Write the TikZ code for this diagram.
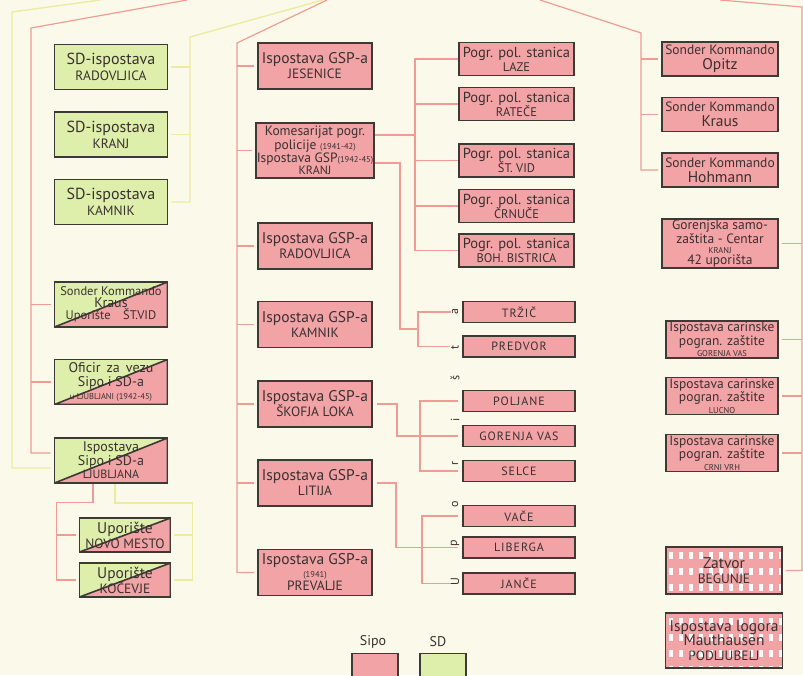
\documentclass[tikz,border=0pt]{standalone}
\usepackage{fontspec}
\setmainfont{PT Sans}
\usepackage{tikz}
\usetikzlibrary{positioning}

\definecolor{papir}{HTML}{FBFAEA}
\definecolor{sipo}{HTML}{F2A3A6}
\definecolor{sd}{HTML}{DEEFAC}
\definecolor{okvir}{HTML}{3D3A36}
\definecolor{tinta}{HTML}{3A3030}
\definecolor{rozalinija}{HTML}{F09C94}
\definecolor{zutalinija}{HTML}{ECEBA2}

\newcommand{\kraj}[1]{{\fontsize{13.5}{13}\selectfont #1}}
\newcommand{\sitno}[1]{{\fontsize{8.5}{9}\selectfont #1}}

\begin{document}
\begin{tikzpicture}[x=1pt,y=-1pt,on grid,
  box/.style={draw=okvir,line width=1.6pt,inner sep=1pt,align=center,text=tinta,
    font=\fontsize{15.5}{15}\selectfont},
  sipo/.style={box,fill=sipo},
  sd/.style={box,fill=sd},
  mix/.style={box,fill=sd,path picture={\fill[sipo] (path picture bounding box.south west)
    -- (path picture bounding box.south east) -- (path picture bounding box.north east) -- cycle;}},
  karo/.style={sipo,path picture={\foreach \i in {0,...,11} \foreach \j in {0,...,3}
    \fill[white] ([xshift=\i*10pt+3pt,yshift=-\j*16pt-5pt]path picture bounding box.north west)
    rectangle ++(4pt,-7pt);}},
  lw/.style={minimum width=113pt,minimum height=45pt},
  sw/.style={minimum width=91pt,minimum height=34pt},
  mw/.style={minimum width=114pt,minimum height=46pt},
  pw/.style={minimum width=115pt,minimum height=33pt,font=\fontsize{14.5}{14}\selectfont},
  uw/.style={minimum width=112pt,minimum height=21pt,font=\fontsize{12}{12}\selectfont\addfontfeatures{LetterSpace=8}},
  rw/.style={minimum width=116pt,minimum height=34pt,font=\fontsize{13.5}{15}\selectfont},
  cw/.style={minimum width=112pt,minimum height=34pt,font=\fontsize{13.5}{11.5}\selectfont},
  pl/.style={draw=rozalinija,line width=1.2pt},
  yl/.style={draw=zutalinija,line width=1.4pt},
  grana/.style={shorten >=3pt},
  kratko/.style={shorten <=4pt,shorten >=4pt},
  slovo/.style={rotate=90,fill=papir,inner sep=1pt,text=tinta,font=\fontsize{12}{12}\selectfont}]

\useasboundingbox (0,0) rectangle (803,675);
\fill[papir] (0,0) rectangle (803,675);

% lijevo
\node[sd,lw,font=\fontsize{16}{16}\selectfont] (sdr) at (111,67) {SD-ispostava\\\kraj{RADOVLJICA}};
\node[sd,lw,font=\fontsize{16}{16}\selectfont] (sdk) [below=67.5pt of sdr] {SD-ispostava\\\kraj{KRANJ}};
\node[sd,lw,font=\fontsize{16}{16}\selectfont] (sdm) [below=67.5pt of sdk] {SD-ispostava\\\kraj{KAMNIK}};
\node[mix,lw,font=\fontsize{12.5}{12}\selectfont] (skk) [below=102.5pt of sdm] {Sonder Kommando\\{\fontsize{14}{12}\selectfont Kraus}\\Uporište\quad ŠT.VID};
\node[mix,lw,font=\fontsize{14}{13.5}\selectfont] (ofi) [below=77.5pt of skk] {Oficir \,za\, vezu\\Sipo i SD-a\\\sitno{u LJUBLJANI (1942-45)}};
\node[mix,lw,font=\fontsize{14}{13.5}\selectfont] (lju) [below=78.5pt of ofi] {Ispostava\\Sipo i SD-a\\{\fontsize{12}{12}\selectfont LJUBLJANA}};
\node[mix,sw] (unm) at (125,535) {Uporište\\\kraj{NOVO MESTO}};
\node[mix,sw] (uko) [below=45pt of unm] {Uporište\\\kraj{KOČEVJE}};

% sredina
\node[sipo,mw] (jes) at (315,66) {Ispostava GSP-a\\\kraj{JESENICE}};
\node[sipo,mw,minimum height=55pt,font=\fontsize{13.5}{12}\selectfont] (kom) [below=84.5pt of jes] {Komesarijat pogr.\\policije \sitno{(1941-42)}\\Ispostava GSP\sitno{(1942-45)}\\{\fontsize{12}{12}\selectfont KRANJ}};
\node[sipo,mw] (rad) [below=95.5pt of kom] {Ispostava GSP-a\\\kraj{RADOVLJICA}};
\node[sipo,mw] (kam) [below=78.5pt of rad] {Ispostava GSP-a\\\kraj{KAMNIK}};
\node[sipo,mw] (sko) [below=79.5pt of kam] {Ispostava GSP-a\\\kraj{ŠKOFJA LOKA}};
\node[sipo,mw] (lit) [below=79pt of sko] {Ispostava GSP-a\\\kraj{LITIJA}};
\node[sipo,mw,font=\fontsize{15.5}{13}\selectfont] (pre) [below=89.5pt of lit] {Ispostava GSP-a\\\sitno{(1941)}\\\kraj{PREVALJE}};

% pogranicne stanice
\node[sipo,pw] (laz) at (516.5,59) {Pogr. pol. stanica\\{\fontsize{12.5}{12}\selectfont LAZE}};
\node[sipo,pw] (rat) [below=45pt of laz] {Pogr. pol. stanica\\{\fontsize{12.5}{12}\selectfont RATEČE}};
\node[sipo,pw] (stv) [below=56.5pt of rat] {Pogr. pol. stanica\\{\fontsize{12.5}{12}\selectfont ŠT. VID}};
\node[sipo,pw] (crn) [below=45.5pt of stv] {Pogr. pol. stanica\\{\fontsize{12.5}{12}\selectfont ČRNUČE}};
\node[sipo,pw] (boh) [below=44.5pt of crn] {Pogr. pol. stanica\\{\fontsize{12.5}{12}\selectfont BOH. BISTRICA}};

% uporista
\node[sipo,uw] (trz) at (519,312) {TRŽIČ};
\node[sipo,uw] (pred) [below=34.5pt of trz] {PREDVOR};
\node[sipo,uw] (pol) [below=54.5pt of pred] {POLJANE};
\node[sipo,uw] (gor) [below=35pt of pol] {GORENJA VAS};
\node[sipo,uw] (sel) [below=35pt of gor] {SELCE};
\node[sipo,uw] (vac) [below=45pt of sel] {VAČE};
\node[sipo,uw] (lib) [below=31.5pt of vac] {LIBERGA};
\node[sipo,uw] (jan) [below=36pt of lib] {JANČE};

% desno
\node[sipo,rw] (opi) at (720,59) {Sonder Kommando\\{\fontsize{15.5}{15}\selectfont Opitz}};
\node[sipo,rw] (kra) [below=55.5pt of opi] {Sonder Kommando\\{\fontsize{15.5}{15}\selectfont Kraus}};
\node[sipo,rw] (hoh) [below=55.5pt of kra] {Sonder Kommando\\{\fontsize{15.5}{15}\selectfont Hohmann}};
\node[sipo,rw,minimum height=47pt,font=\fontsize{13.5}{12}\selectfont] (gsz) [below=73.5pt of hoh] {Gorenjska samo-\\zaštita - Centar\\[-2.5pt]\sitno{KRANJ}\\[-1pt]42 uporišta};
\node[sipo,cw] (cgv) at (722,339.5) {Ispostava carinske\\pogran. zaštite\\\sitno{GORENJA VAS}};
\node[sipo,cw] (clu) [below=56.5pt of cgv] {Ispostava carinske\\pogran. zaštite\\\sitno{LUCNO}};
\node[sipo,cw,minimum height=36pt] (ccv) [below=57pt of clu] {Ispostava carinske\\pogran. zaštite\\\sitno{CRNI VRH}};
\node[karo,minimum width=116pt,minimum height=47pt] (zat) at (724,570.5) {Zatvor\\\kraj{BEGUNJE}};
\node[karo,minimum width=117pt,minimum height=55pt,font=\fontsize{15.5}{14.5}\selectfont] (mau) [below=70pt of zat] {Ispostava logora\\Mauthausen\\\kraj{PODLJUBELJ}};

% legenda
\node[text=tinta,font=\fontsize{14}{14}\selectfont] (lsipo) at (373,642) {Sipo};
\node[text=tinta,font=\fontsize{14}{14}\selectfont] (lsd) at (438,642) {SD};
\node[sipo,minimum width=46pt,minimum height=27pt] (bsipo) at (375,667) {};
\node[sd,minimum width=46pt,minimum height=27pt] (bsd) at (443,667) {};

% veze
\coordinate (yl0) at (100,0);
\coordinate (yl1) at (12,12);
\coordinate (pl0) at (187,0);
\coordinate (pl1) at (31,28);
\coordinate (yl2) at (323,0);
\coordinate (yl3) at (190,37);
\coordinate (pm0) at (327,0);
\coordinate (pm1) at (237,43);
\coordinate (pg) at (415,135);
\coordinate (tp) at (418,329);
\coordinate (gp) at (420,436);
\coordinate (vp) at (422,547.5);
\coordinate (sk0) at (540,0);
\coordinate (sk1) at (641,33);
\coordinate (dr0) at (720,0);
\coordinate (dr1) at (802,7);

\draw[yl,grana] (yl0) -- (yl1) |- ([yshift=-7.5pt]lju.west);
\draw[pl,grana] (pl0) -- (pl1) |- ([yshift=7.5pt]lju.west);
\foreach \n in {skk,ofi} \draw[pl,grana] (pl1 |- \n) -- (\n);
\draw[yl,grana] (yl2) -- (yl3) |- (sdm);
\foreach \n in {sdr,sdk} \draw[yl,grana] (yl3 |- \n) -- (\n);

\draw[pl,grana] ([xshift=-18pt]lju.south) -- ++(0,19) -| ([xshift=-22pt]unm.west) |- (uko);
\draw[pl,grana] ([xshift=-22pt]unm.west) -- (unm);
\draw[yl,grana] ([xshift=4pt]lju.south) -- ++(0,19) -| ([xshift=21pt]unm.east) |- (uko);
\draw[yl,grana] ([xshift=21pt]unm.east) -- (unm);

\draw[pl,grana] (pm0) -- (pm1) |- (pre);
\foreach \n in {jes,kom,rad,kam,sko,lit} \draw[pl,grana] (pm1 |- \n) -- (\n);

\draw[pl] ([yshift=15.5pt]kom.east) -- (pg);
\draw[pl] (laz) -| (pg) |- (boh);
\foreach \n in {rat,stv,crn} \draw[pl] (pg |- \n) -- (\n);

\draw[pl] ([yshift=-12.5pt]kom.east) -- ++(25,0) |- (tp);
\draw[pl,kratko] (trz) -| (tp) |- (pred);
\draw[pl,kratko] (pol) -| (gp) |- (sel);
\draw[pl,kratko] (sko) -- ++(82,0) |- (gor);
\draw[pl,kratko] (vac) -| (vp) |- (jan);
\draw[pl,kratko] (lit) -- ++(81,0) |- (lib);

\draw[pl,grana] (sk0) -- (sk1) |- (hoh);
\foreach \n in {opi,kra} \draw[pl,grana] (sk1 |- \n) -- (\n);
\draw[pl,grana] (dr0) -- (dr1) |- (zat);
\foreach \n in {gsz,cgv,clu,ccv} \draw[pl,grana] (dr1 |- \n) -- (\n);

\foreach \s/\y in {a/312,t/347,š/378,i/420,r/463,o/504,p/543,U/582}
  \node[slovo] (u\y) at (455,\y) {\s};

\end{tikzpicture}
\end{document}
